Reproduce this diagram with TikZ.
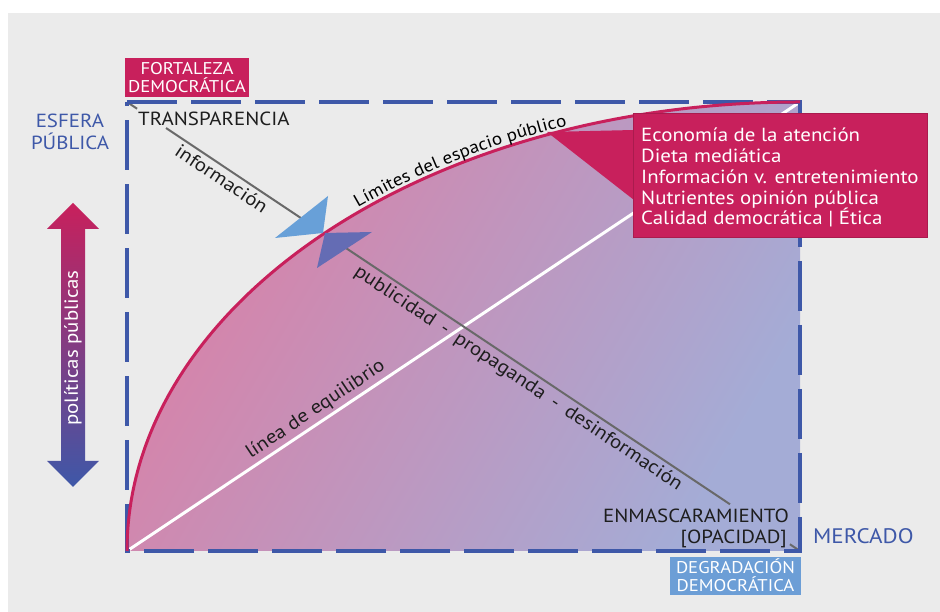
\documentclass[tikz,border=0pt]{standalone}
\usepackage{fontspec}
\setmainfont{PT Sans}[FakeStretch=1.1]
\usetikzlibrary{calc,decorations.text}
\definecolor{bg}{RGB}{235,235,235}
\definecolor{crim}{RGB}{200,32,92}
\definecolor{dblue}{RGB}{62,88,168}
\definecolor{lblue}{RGB}{108,158,214}
\definecolor{triL}{RGB}{104,160,216}
\definecolor{triD}{RGB}{100,108,180}
\definecolor{pinkL}{RGB}{218,128,166}
\definecolor{pinkM}{RGB}{206,148,190}
\definecolor{lav}{RGB}{164,172,214}
\definecolor{gline}{RGB}{105,105,105}
\definecolor{ink}{RGB}{30,30,30}
\begin{document}
\begin{tikzpicture}[x=1pt,y=1pt,
  big/.style={font=\fontsize{19}{21}\selectfont, inner sep=0pt},
  lab/.style={font=\fontsize{17}{18}\selectfont, inner sep=0pt, text=white},
  wline/.style={white, line width=3pt},
  gl/.style={gline, line width=2pt}]
\useasboundingbox (0,0) rectangle (940,612);
\fill[white] (0,0) rectangle (940,612);
\fill[bg] (8,0) rectangle (940,599);
% filled region
\shade[top color=pinkL, middle color=pinkM, bottom color=lav, shading angle=60]
  (800,61) -- (127,61) arc[start angle=180, end angle=90, x radius=673pt, y radius=449pt] -- cycle;
% equilibrium line
\coordinate (wA) at (127,61);
\coordinate (wB) at (800,510);
\draw[wline] (wA) -- (wB);
% grey diagonal
\coordinate (gA) at (127,510);
\coordinate (gB) at (800,61);
\draw[gl] (gA) -- ($(gA)!0.015!(gB)$);
\draw[gl] ($(gA)!0.058!(gB)$) -- ($(gA)!0.896!(gB)$);
\draw[gl] ($(gA)!0.985!(gB)$) -- (gB);
% dashed frame
\draw[dblue, line width=4pt, dash pattern=on 50pt off 14pt] (127,510) -- (800,510) -- (800,61) -- (127,61) -- cycle;
% limit arc
\draw[crim, line width=3pt] (127,61) arc[start angle=180, end angle=90, x radius=673pt, y radius=449pt];
\path[decorate, decoration={text along path, text={|\fontsize{17.5}{20}\selectfont|Límites del espacio público}, text align=center, raise=4pt}]
  (800,61) ++(131:673pt and 449pt) arc[start angle=131, end angle=110, x radius=673pt, y radius=449pt];
% triangles
\fill[triL] (275,374) -- (328,416) -- (323,379) -- cycle;
\fill[triD] (325,379) -- (372,380) -- (317,344) -- cycle;
% callout
\fill[crim] (547,480) -- (634,482) -- (634,412) -- cycle;
\node[fill=crim, draw=crim!85!black, minimum width=294pt, minimum height=124pt, inner sep=0pt, anchor=south west] (cbox) at (633,375) {};
\node[big, text=white, anchor=base west] (c1) at (641,470.3) {Economía de la atención};
\node[big, text=white, anchor=base west] (c2) at (641,449.3) {Dieta mediática};
\node[big, text=white, anchor=base west] (c3) at (641,428.7) {Información v. entretenimiento};
\node[big, text=white, anchor=base west] (c4) at (641,407.7) {Nutrientes opinión pública};
\node[big, text=white, anchor=base west] (c5) at (641,387) {Calidad democrática | Ética};
% corner labels
\node[fill=crim, minimum width=124pt, minimum height=39pt, inner sep=0pt] (fbox) at (187,534.5) {};
\node[lab, anchor=base] (f1) at (187,537) {FORTALEZA};
\node[lab, anchor=base] (f2) at (187,519.3) {DEMOCRÁTICA};
\node[fill=lblue, minimum width=131pt, minimum height=38pt, inner sep=0pt] (dbox) at (735.5,36) {};
\node[lab, anchor=base] (d1) at (735.5,38) {DEGRADACIÓN};
\node[lab, anchor=base] (d2) at (735.5,20) {DEMOCRÁTICA};
\node[big, text=dblue, anchor=base] (e1) at (70,484.7) {ESFERA};
\node[big, text=dblue, anchor=base] (e2) at (70,462) {PÚBLICA};
\node[font=\fontsize{21}{24}\selectfont, inner sep=0pt, text=dblue, anchor=base west] (merc) at (813,68) {MERCADO};
\node[big, text=ink, anchor=base west] (transp) at (138,486) {TRANSPARENCIA};
\node[big, text=ink, anchor=base east] (enm) at (789,89.3) {ENMASCARAMIENTO};
\node[big, text=ink, anchor=base east] (opa) at (787,68.7) {[OPACIDAD]};
% line labels
\node[big, text=ink, rotate=-33.7, anchor=north, inner sep=4pt] (info) at ($(gA)!0.15!(gB)$) {información};
\node[big, text=ink, rotate=-33.7, anchor=north, inner sep=4pt] (pub) at ($(gA)!0.592!(gB)$)
  {publicidad\hspace{0.5em}-\hspace{0.5em}propaganda\hspace{0.5em}-\hspace{0.5em}desinformación};
\node[big, text=ink, rotate=33.7, anchor=south, inner sep=4pt] (equi) at ($(wA)!0.291!(wB)$) {línea de equilibrio};
% policy arrow
\shade[top color=crim, bottom color=dblue]
  (73,409) -- (99,383) -- (85,383) -- (85,151) -- (99,151) -- (73,125) -- (47,151) -- (61,151) -- (61,383) -- (47,383) -- cycle;
\node[font=\fontsize{19}{20}\selectfont, text=white, rotate=90, inner sep=0pt] (pol) at (73,264) {políticas públicas};
\end{tikzpicture}
\end{document}
